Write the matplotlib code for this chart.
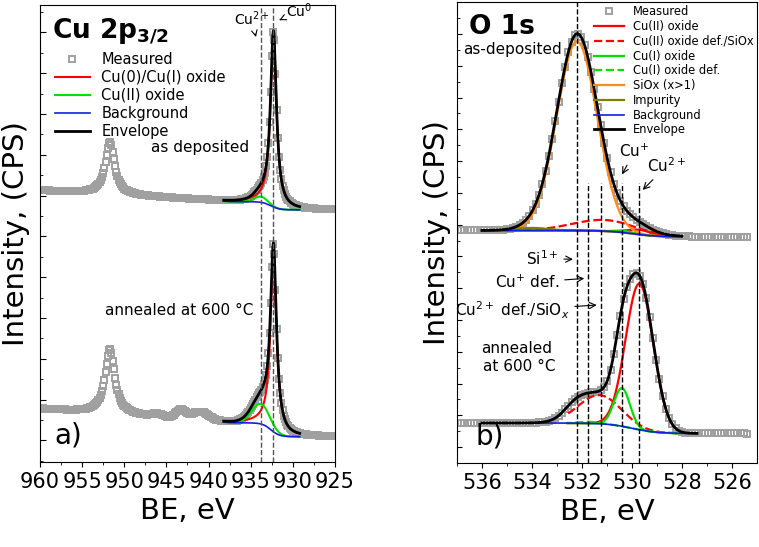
import numpy as np
import matplotlib
matplotlib.use("Agg")
import matplotlib.pyplot as plt

# ---------- data (peak parameters, arbitrary units) ----------
# Cu 2p panel: (center eV, height, FWHM)
cu_up_bg = [6.18, 0.20, 0.012]          # low level, step, slope
cu_up_red = [932.3, 4.30, 0.85]
cu_up_green = [933.8, 0.14, 1.8]
cu_up_p12 = [951.7, 1.30, 1.3]
cu_lo_bg = [0.62, 0.34, 0.015]
cu_lo_red = [932.3, 4.45, 0.85]
cu_lo_green = [933.8, 0.49, 2.5]
cu_lo_p12 = [951.7, 1.60, 1.35]
cu_lo_sats = [[941.0, 0.20, 2.3], [943.3, 0.22, 1.3], [946.1, 0.07, 1.4]]

# O 1s panel: (center, height, FWHM) gaussian
o_up_bg = [7.11, 0.20]
o_up_comps = {
    "Cu(II) oxide": [529.7, 0.15, 1.1],
    "Cu(II) oxide def./SiOx": [531.1, 0.35, 3.0],
    "Cu(I) oxide": [530.3, 0.06, 0.8],
    "SiOx (x>1)": [532.2, 5.95, 1.9],
    "Impurity": [534.0, 0.08, 1.5],
}
o_lo_bg = [0.92, 0.33]
o_lo_comps = {
    "Cu(II) oxide": [529.7, 4.60, 1.3],
    "Cu(II) oxide def./SiOx": [531.3, 0.90, 2.0],
    "Cu(I) oxide": [530.4, 1.20, 0.75],
    "Cu(I) oxide def.": [531.7, 0.05, 0.8],
    "SiOx (x>1)": [532.3, 0.28, 1.0],
}

def lor(x, c, h, w):
    return h / (1 + ((x - c) / (w / 2)) ** 2)

def gau(x, c, h, w):
    return h * np.exp(-4 * np.log(2) * ((x - c) / w) ** 2)

def sig(x, c, w):
    return 1 / (1 + np.exp(-(x - c) / w))

fig = plt.figure(figsize=(7.59, 5.47), dpi=100)
axA = fig.add_axes([40/759, 1-462/547, 295/759, 457/547])
axB = fig.add_axes([457/759, 1-463/547, 300/759, 461/547])
mk = dict(ls='none', marker='s', ms=4, mfc='none', mec='#a0a0a0', mew=1.4)

# ---------- panel a ----------
xm = np.arange(925.2, 960.01, 0.14)
xf = np.linspace(929.2, 938.2, 400)
for bgp, red, green, p12, sats in [(cu_up_bg, cu_up_red, cu_up_green, cu_up_p12, []),
                                   (cu_lo_bg, cu_lo_red, cu_lo_green, cu_lo_p12, cu_lo_sats)]:
    def bg(x):
        return bgp[0] + bgp[1] * sig(x, 932.6, 0.5) + bgp[2] * np.clip(x - 937, 0, None)
    meas = bg(xm) + lor(xm, *red) + gau(xm, *green) + lor(xm, *p12)
    for s in sats:
        meas = meas + gau(xm, *s)
    axA.plot(xm, meas, **mk, label='Measured' if not sats else None)
    b = bg(xf)
    r = b + lor(xf, *red); g = b + gau(xf, *green)
    axA.plot(xf, r, color='red', lw=1.5, label='Cu(0)/Cu(I) oxide' if not sats else None)
    axA.plot(xf, g, color='#00e000', lw=1.5, label='Cu(II) oxide' if not sats else None)
    axA.plot(xf, b, color='#1020e0', lw=1.2, label='Background' if not sats else None)
    axA.plot(xf, b + lor(xf, *red) + gau(xf, *green), color='black', lw=2, label='Envelope' if not sats else None)

axA.set_xlim(960, 925); axA.set_ylim(0, 11.2)
axA.set_xticks(np.arange(960, 924, -5))
axA.set_yticks(0.53 + np.arange(11)); axA.set_yticks(0.53 + np.arange(-0.5, 11, 0.5), minor=True)
axA.set_xticks(np.arange(960, 924, -2.5), minor=True)
axA.tick_params(axis='y', labelleft=False, direction='in', length=4)
axA.tick_params(axis='y', which='minor', direction='in', length=2)
axA.tick_params(axis='x', which='both', direction='out', labelsize=15)
for v in [933.8, 932.3]:
    axA.axvline(v, color='#555555', ls='--', lw=1)
axA.text(0.04, 0.975, r'Cu 2p$_{\mathbf{3/2}}$', transform=axA.transAxes, fontsize=19, fontweight='bold', va='top')
axA.annotate(r'Cu$^{2+}$', xy=(934.3, 10.35), xytext=(934.9, 10.7), fontsize=10, ha='center',
             arrowprops=dict(arrowstyle='->', lw=0.8))
axA.annotate(r'Cu$^{0}$', xy=(931.9, 10.8), xytext=(929.3, 10.9), fontsize=10, ha='center',
             arrowprops=dict(arrowstyle='->', lw=0.8))
axA.text(941, 7.6, 'as deposited', fontsize=11, ha='center')
axA.text(943.5, 3.6, 'annealed at 600 °C', fontsize=11, ha='center')
axA.text(0.05, 0.04, 'a)', transform=axA.transAxes, fontsize=20)
axA.legend(loc='upper left', bbox_to_anchor=(0.03, 0.91), frameon=False, fontsize=10.5,
           handlelength=2.4, labelspacing=0.2, borderaxespad=0)
axA.set_xlabel('BE, eV', fontsize=21)
axA.set_ylabel('Intensity, (CPS)', fontsize=21, labelpad=4)

# ---------- panel b ----------
colors = {"Cu(II) oxide": ('red', '-'), "Cu(II) oxide def./SiOx": ('red', '--'),
          "Cu(I) oxide": ('#00e000', '-'), "Cu(I) oxide def.": ('#00e000', '--'),
          "SiOx (x>1)": ('#ff8c1a', '-'), "Impurity": ('#808000', '-')}
xm2 = np.arange(525.4, 537.0, 0.13)
for bgp, comps, x0, x1, first in [(o_up_bg, o_up_comps, 528.0, 536.0, True),
                                  (o_lo_bg, o_lo_comps, 527.4, 536.0, False)]:
    def bg(x):
        return bgp[0] + bgp[1] * sig(x, 530.0, 0.5)
    meas = bg(xm2) + sum(gau(xm2, *v) for v in comps.values())
    axB.plot(xm2, meas, **mk, label='Measured' if first else None)
    xf = np.linspace(x0, x1, 400)
    b = bg(xf)
    for name in ["Cu(II) oxide", "Cu(II) oxide def./SiOx", "Cu(I) oxide", "Cu(I) oxide def.", "SiOx (x>1)", "Impurity"]:
        c, ls = colors[name]
        if name in comps and not (not first and name == "SiOx (x>1)"):
            xs = xf if first else xf[(xf > 528.2) & (xf < 532.6)]
            axB.plot(xs, bg(xs) + gau(xs, *comps[name]), color=c, ls=ls, lw=1.6,
                     label=name if first else None)
        elif first:
            axB.plot([], [], color=c, ls=ls, lw=1.6, label=name)
    axB.plot(xf, b, color='#1020e0', lw=1.2, label='Background' if first else None)
    axB.plot(xf, b + sum(gau(xf, *v) for v in comps.values()), color='black', lw=2,
             label='Envelope' if first else None)

ty = lambda zy: (1390 - zy) / 95.6
axB.set_xlim(537, 525); axB.set_ylim(0, 14.5)
axB.set_xticks(np.arange(536, 525, -2)); axB.set_xticks(np.arange(537, 525, -1), minor=True)
axB.set_yticks(ty(1343) + np.arange(14)); axB.set_yticks(ty(1343) + np.arange(-0.5, 14, 0.5), minor=True)
axB.tick_params(axis='y', which='both', labelleft=False, direction='in')
axB.tick_params(axis='y', which='minor', length=2)
axB.tick_params(axis='x', which='both', direction='out', labelsize=15)
axB.axvline(532.2, color='black', ls='--', lw=1)
for v in [531.75, 531.25, 530.4, 529.7]:
    axB.plot([v, v], [0, ty(548)], color='black', ls='--', lw=1)
arr = dict(arrowstyle='->', lw=0.8)
axB.annotate(r'Cu$^{+}$', xy=(530.45, ty(530)), xytext=(529.9, ty(470)), fontsize=11, ha='center', arrowprops=arr)
axB.annotate(r'Cu$^{2+}$', xy=(529.65, ty(575)), xytext=(528.6, ty(515)), fontsize=11, ha='center', arrowprops=arr)
axB.annotate(r'Si$^{1+}$', xy=(532.25, ty(778)), xytext=(533.6, ty(795)), fontsize=11, ha='center', arrowprops=arr)
axB.annotate(r'Cu$^{+}$ def.', xy=(531.8, ty(835)), xytext=(534.2, ty(865)), fontsize=11, ha='center', arrowprops=arr)
axB.annotate(r'Cu$^{2+}$ def./SiO$_x$', xy=(531.3, ty(915)), xytext=(534.8, ty(950)), fontsize=11, ha='center', arrowprops=arr)
axB.text(0.04, 0.975, 'O 1s', transform=axB.transAxes, fontsize=19, fontweight='bold', va='top')
axB.text(534.8, ty(160), 'as-deposited', fontsize=11, ha='center')
axB.text(534.6, ty(1060), 'annealed', fontsize=11, ha='center')
axB.text(534.5, ty(1115), 'at 600 °C', fontsize=11, ha='center')
axB.text(0.06, 0.04, 'b)', transform=axB.transAxes, fontsize=20)
axB.legend(loc='upper right', frameon=False, fontsize=8.3, handlelength=2.6, labelspacing=0.15,
           borderaxespad=0.2, borderpad=0.1)
axB.set_xlabel('BE, eV', fontsize=21)
axB.set_ylabel('Intensity, (CPS)', fontsize=21, labelpad=4)

fig.savefig('out.png', dpi=100)
